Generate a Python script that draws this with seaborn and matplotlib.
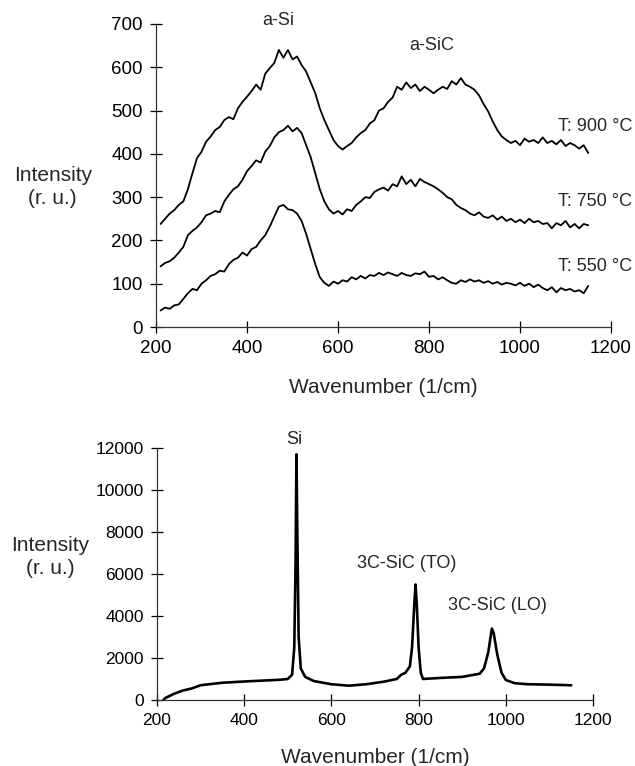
import numpy as np
import pandas as pd
import matplotlib
matplotlib.use("Agg")
import matplotlib.pyplot as plt
import seaborn as sns

# --- top panel: amorphous films, three anneal temperatures ---
wn_top = np.arange(210, 1151, 10)

i_900 = [238, 250, 262, 270, 282, 290, 318, 355, 390, 405,
         428, 440, 455, 462, 478, 485, 480, 505, 520, 532,
         545, 560, 548, 585, 598, 610, 640, 622, 640, 618,
         625, 605, 590, 565, 540, 505, 478, 455, 432, 418,
         410, 418, 425, 438, 448, 455, 470, 478, 500, 505,
         520, 530, 555, 548, 565, 552, 560, 545, 555, 548,
         540, 548, 555, 550, 568, 560, 575, 560, 555, 548,
         535, 515, 498, 475, 455, 440, 432, 425, 430, 420,
         435, 428, 432, 425, 438, 425, 430, 422, 432, 418,
         425, 420, 412, 420, 402]

i_750 = [140, 148, 152, 160, 172, 185, 212, 222, 230, 242,
         258, 262, 268, 265, 290, 305, 318, 325, 340, 360,
         372, 385, 380, 405, 418, 438, 450, 455, 465, 452,
         460, 448, 420, 392, 355, 318, 290, 272, 262, 268,
         260, 272, 268, 282, 290, 300, 298, 312, 318, 322,
         315, 330, 325, 348, 330, 340, 325, 342, 335, 330,
         325, 318, 310, 300, 295, 282, 275, 270, 262, 258,
         265, 255, 252, 258, 248, 255, 245, 250, 242, 248,
         240, 250, 242, 245, 238, 240, 228, 240, 235, 245,
         230, 238, 228, 238, 235]

i_550 = [38, 45, 42, 50, 52, 65, 78, 88, 85, 100,
         108, 118, 122, 130, 128, 145, 155, 160, 172, 165,
         180, 185, 200, 212, 232, 255, 278, 282, 272, 270,
         262, 245, 215, 180, 145, 115, 102, 95, 105, 100,
         108, 105, 115, 110, 118, 112, 120, 118, 125, 120,
         126, 122, 118, 125, 120, 118, 124, 122, 128, 116,
         118, 110, 115, 108, 102, 100, 108, 104, 110, 105,
         108, 102, 106, 100, 104, 98, 102, 100, 96, 102,
         95, 100, 92, 98, 90, 85, 92, 80, 90, 85,
         88, 82, 85, 78, 95]

temp_labels = ["T: 900 °C", "T: 750 °C", "T: 550 °C"]
temp_label_y = [464, 289, 139]

# --- bottom panel: crystalline 3C-SiC on Si ---
wn_bot = [215, 220, 240, 260, 280, 300, 320, 350, 400, 450,
          480, 500, 510, 515, 518, 520, 522, 525, 530, 540,
          560, 600, 640, 680, 720, 750, 760, 770, 780, 785,
          790, 793, 796, 800, 805, 810, 850, 900, 940, 950,
          960, 965, 968, 972, 980, 990, 1000, 1020, 1050, 1100,
          1150]
i_bot = [0, 100, 300, 450, 550, 700, 750, 820, 880, 930,
         960, 1000, 1200, 2500, 6500, 11700, 8000, 3000, 1500, 1100,
         900, 750, 680, 750, 870, 1000, 1200, 1300, 1600, 2500,
         4500, 5500, 4500, 2500, 1300, 1000, 1050, 1100, 1250, 1500,
         2300, 3000, 3400, 3200, 2200, 1300, 950, 800, 750, 730,
         700]

peak_labels = ["Si", "3C-SiC (TO)", "3C-SiC (LO)"]
peak_x = [516, 772, 980]
peak_y = [12400, 6520, 4480]

sns.set_style("ticks")
plt.rcParams["font.family"] = ["Liberation Sans", "DejaVu Sans"]

fig = plt.figure(figsize=(6.35, 7.66), dpi=100)
ax1 = fig.add_axes([0.2457, 0.5731, 0.7165, 0.3956])
ax2 = fig.add_axes([0.247, 0.0862, 0.687, 0.3289])

top = pd.DataFrame({"wn": np.tile(wn_top, 3),
                    "I": i_900 + i_750 + i_550,
                    "T": np.repeat(temp_labels, len(wn_top))})
for lab in temp_labels:
    sns.lineplot(data=top[top["T"] == lab], x="wn", y="I", color="black",
                 lw=1.3, ax=ax1)
for lab, y in zip(temp_labels, temp_label_y):
    ax1.text(1246, y, lab, ha="right", va="center", fontsize=13, clip_on=False)
ax1.text(468, 709, "a-Si", ha="center", va="center", fontsize=13)
ax1.text(806, 651, "a-SiC", ha="center", va="center", fontsize=13)

bot = pd.DataFrame({"wn": wn_bot, "I": i_bot})
sns.lineplot(data=bot, x="wn", y="I", color="black", lw=1.9, ax=ax2)
for lab, x, y in zip(peak_labels, peak_x, peak_y):
    ax2.text(x, y, lab, ha="center", va="center", fontsize=13)

for ax, ymax, ystep, fs, pad in [(ax1, 700, 100, 13.5, 15), (ax2, 12000, 2000, 12.5, 14)]:
    ax.set_xlim(200, 1200)
    ax.set_ylim(0, ymax)
    ax.set_xticks(range(200, 1201, 200))
    ax.set_yticks(range(0, ymax + 1, ystep))
    ax.tick_params(direction="inout", length=9, width=0.9, labelsize=fs,
                   colors="black", pad=5)
    for s in ["top", "right"]:
        ax.spines[s].set_visible(False)
    for s in ["left", "bottom"]:
        ax.spines[s].set_linewidth(0.9)
        ax.spines[s].set_color("#333333")
    ax.set_xlabel("Wavenumber (1/cm)", fontsize=15, labelpad=pad)
    ax.set_ylabel("")

fig.text(0.083, 0.756, "Intensity\n(r. u.)", ha="center", va="center",
         fontsize=15, linespacing=1.25)
fig.text(0.079, 0.273, "Intensity\n(r. u.)", ha="center", va="center",
         fontsize=15, linespacing=1.25)

fig.savefig("out.png", dpi=100)
